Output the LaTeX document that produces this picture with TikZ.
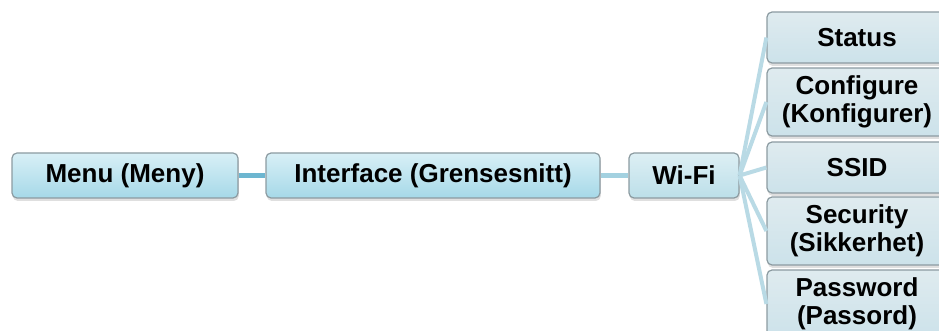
\documentclass[tikz,border=0pt]{standalone}
\usepackage{fontspec}
\setmainfont{Liberation Sans}
\usepackage{tikz}
\usetikzlibrary{shadows}

\definecolor{boxtop}{HTML}{D8EFF6}
\definecolor{boxbot}{HTML}{A6D9E8}
\definecolor{wifitop}{HTML}{DDEFF4}
\definecolor{wifibot}{HTML}{BCDFE9}
\definecolor{leaftop}{HTML}{DFEBEF}
\definecolor{leafbot}{HTML}{CCE2EA}
\definecolor{edgegray}{HTML}{8C9BA1}
\definecolor{linkdark}{HTML}{6DB6D0}
\definecolor{linkmid}{HTML}{A3D1E0}
\definecolor{linklight}{HTML}{B9DAE5}

\tikzset{
  menubox/.style={draw=edgegray, line width=0.6pt, rounded corners=2.5pt,
    top color=boxtop, bottom color=boxbot, inner sep=0pt, align=center,
    font=\fontsize{13}{14}\selectfont\bfseries,
    drop shadow={shadow xshift=0.4pt, shadow yshift=-1.5pt, opacity=0.25}},
  wifibox/.style={menubox, top color=wifitop, bottom color=wifibot},
  leafbox/.style={menubox, top color=leaftop, bottom color=leafbot,
    minimum width=90pt},
  link/.style={line width=2.5pt},
}

\begin{document}
\begin{tikzpicture}[x=0.5pt, y=-0.5pt]
\useasboundingbox (0,0) rectangle (939,331);
% first row: menu -> interface -> wi-fi
\node[menubox, minimum width=113pt, minimum height=22.5pt] (menu) at (125,175.5) {Menu (Meny)};
\node[menubox, minimum width=167pt, minimum height=22.5pt] (iface) at (433,175.5) {Interface (Grensesnitt)};
\node[wifibox, minimum width=55pt, minimum height=22.5pt] (wifi) at (684,175.5) {Wi-Fi};
% wi-fi submenu column
\node[leafbox, minimum height=25.5pt] (status) at (857,37.5) {Status};
\node[leafbox, minimum height=34pt] (config) at (857,102) {Configure\\(Konfigurer)};
\node[leafbox, minimum height=25.5pt] (ssid) at (857,167.5) {SSID};
\node[leafbox, minimum height=34pt] (secur) at (857,231) {Security\\(Sikkerhet)};
\node[leafbox, minimum height=34pt] (passwd) at (857,304) {Password\\(Passord)};
% links
\draw[link, linkdark] (menu) -- (iface);
\draw[link, linkmid] (iface) -- (wifi);
\foreach \n in {status,config,ssid,secur,passwd}{
  \draw[link, linklight, line width=2pt] (wifi.east) -- (\n.west);
}
\end{tikzpicture}
\end{document}
